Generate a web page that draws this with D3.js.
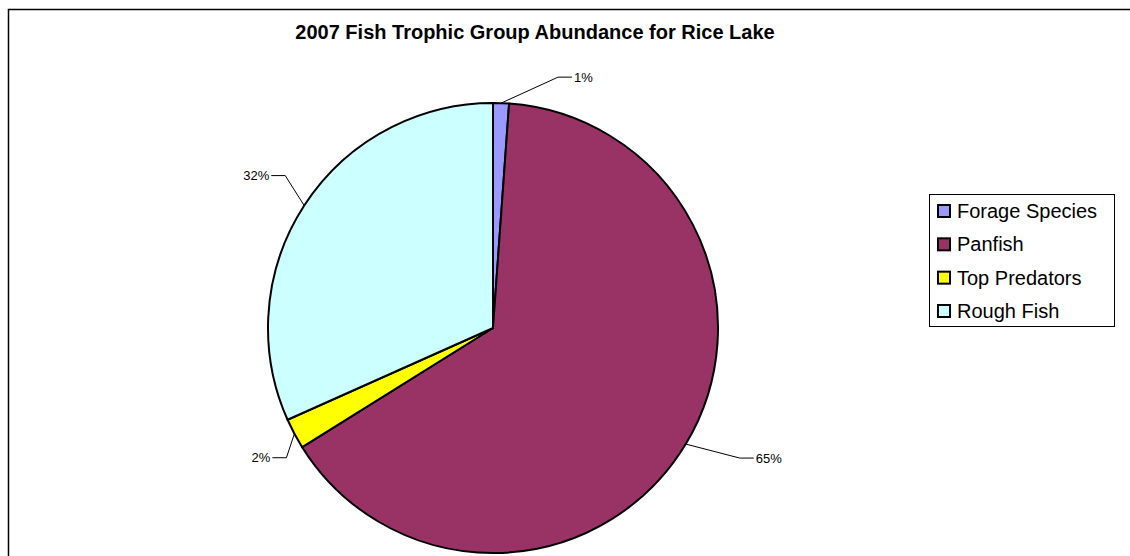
<!DOCTYPE html>
<html>
<head>
<meta charset="utf-8">
<script src="https://cdn.jsdelivr.net/npm/d3@7"></script>
<style>
  html, body { margin: 0; padding: 0; background: #fff; }
  svg { display: block; }
  text { font-family: "Liberation Sans", Arial, sans-serif; }
</style>
</head>
<body>
<svg id="chart" width="1130" height="556"></svg>
<script>
// ---- data ----
const title = "2007 Fish Trophic Group Abundance for Rice Lake";
const categories = ["Forage Species", "Panfish", "Top Predators", "Rough Fish"];
const values = [1.14, 65.0, 2.2, 31.7];
const colors = ["#9999FF", "#993366", "#FFFF00", "#CCFFFF"];
// leader-line elbow offsets relative to slice edge (layout only)
const labelOffsets = [[57, -26], [54, 14], [-8, 24], [-19, -30]];

const svg = d3.select("#chart");
const W = 1130, H = 556;

// outer frame
svg.append("rect")
  .attr("x", 8.5).attr("y", 9.5)
  .attr("width", 1300).attr("height", 700)
  .attr("fill", "#fff").attr("stroke", "#000").attr("stroke-width", 1.5);

// title
svg.append("text")
  .attr("x", 535).attr("y", 39)
  .attr("text-anchor", "middle")
  .attr("font-weight", "bold")
  .attr("font-size", 20)
  .text(title);

const cx = 493, cy = 328, r = 225;
const total = d3.sum(values);
const pie = d3.pie().sort(null).value(d => d)(values);
const arc = d3.arc().innerRadius(0).outerRadius(r);
const edgeArc = d3.arc().innerRadius(r).outerRadius(r);

const g = svg.append("g").attr("transform", `translate(${cx},${cy})`);
g.selectAll("path.slice")
  .data(pie)
  .join("path")
  .attr("class", "slice")
  .attr("d", arc)
  .attr("fill", (d, i) => colors[i])
  .attr("stroke", "#000")
  .attr("stroke-width", 2)
  .attr("stroke-linejoin", "round");

const fmt = d3.format(".0%");
pie.forEach((d, i) => {
  const a = edgeArc.centroid(d);
  const off = labelOffsets[i];
  const e = [a[0] + off[0], a[1] + off[1]];
  const right = off[0] > 0 ? 1 : -1;
  const h = [e[0] + right * 14, e[1]];
  g.append("polyline")
    .attr("points", [a, e, h].map(p => p.join(",")).join(" "))
    .attr("fill", "none")
    .attr("stroke", "#000")
    .attr("stroke-width", 1);
  g.append("text")
    .attr("x", h[0] + right * 2)
    .attr("y", h[1] + 4.5)
    .attr("text-anchor", right > 0 ? "start" : "end")
    .attr("font-size", 13)
    .text(fmt(d.data / total));
});

// legend
const lg = svg.append("g");
lg.append("rect")
  .attr("x", 929.5).attr("y", 194.5)
  .attr("width", 185).attr("height", 132)
  .attr("fill", "#fff").attr("stroke", "#000").attr("stroke-width", 1);
const rowY = d3.scalePoint().domain(categories).range([211, 311]);
const items = lg.selectAll("g.item").data(categories).join("g")
  .attr("class", "item")
  .attr("transform", d => `translate(0,${rowY(d)})`);
items.append("rect")
  .attr("x", 938).attr("y", -6)
  .attr("width", 12).attr("height", 12)
  .attr("fill", (d, i) => colors[i])
  .attr("stroke", "#000").attr("stroke-width", 2);
items.append("text")
  .attr("x", 957).attr("y", 7)
  .attr("font-size", 20)
  .text(d => d);
</script>
</body>
</html>
